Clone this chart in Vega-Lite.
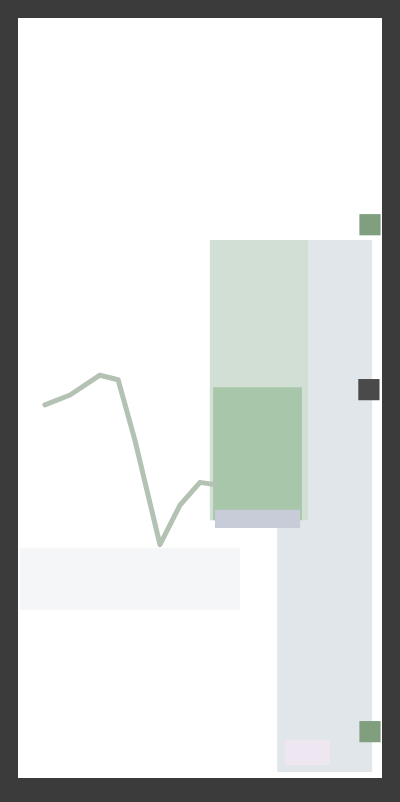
{
  "$schema": "https://vega.github.io/schema/vega-lite/v6.json",
  "autosize": {"type": "fit", "contains": "padding"},
  "width": 400,
  "height": 802,
  "padding": {"left": 18, "right": 18, "top": 18, "bottom": 24},
  "background": "#3b3b3b",
  "layer": [
    {
      "data": {
        "values": [
          {"x": 0.5, "x2": 61, "y": 30.3, "y2": 22.1, "part": "band"},
          {"x": 71.2, "x2": 97.3, "y": 70.8, "y2": 0.8, "part": "range"},
          {"x": 52.7, "x2": 79.7, "y": 70.8, "y2": 33.9, "part": "high"},
          {"x": 53.6, "x2": 78.0, "y": 51.4, "y2": 33.9, "part": "mid"},
          {"x": 54.1, "x2": 77.5, "y": 35.3, "y2": 32.9, "part": "low"},
          {"x": 73.3, "x2": 85.7, "y": 5.0, "y2": 1.7, "part": "foot"}
        ]
      },
      "mark": {"type": "rect"},
      "encoding": {
        "x": {"field": "x", "type": "quantitative", "scale": {"domain": [0, 100], "nice": false, "zero": false}, "axis": null},
        "x2": {"field": "x2"},
        "y": {"field": "y", "type": "quantitative", "scale": {"domain": [0, 100], "nice": false, "zero": false}, "axis": null},
        "y2": {"field": "y2"},
        "color": {
          "field": "part",
          "type": "nominal",
          "legend": null,
          "scale": {
            "domain": ["band", "range", "high", "mid", "low", "foot"],
            "range": ["#f5f6f8", "#e1e6ea", "#d2dfd5", "#a8c6a9", "#c8cbd8", "#eee6f0"]
          }
        }
      }
    },
    {
      "data": {
        "values": [
          {"x": 7.4, "y": 49.1},
          {"x": 14.3, "y": 50.4},
          {"x": 22.5, "y": 53.0},
          {"x": 27.5, "y": 52.4},
          {"x": 32.1, "y": 44.5},
          {"x": 39.0, "y": 30.7},
          {"x": 44.5, "y": 35.9},
          {"x": 50.0, "y": 38.9},
          {"x": 54.1, "y": 38.6}
        ]
      },
      "mark": {"type": "line", "color": "#b3c2b3", "strokeWidth": 5, "strokeCap": "round", "strokeJoin": "round"},
      "encoding": {
        "x": {"field": "x", "type": "quantitative"},
        "y": {"field": "y", "type": "quantitative"}
      }
    },
    {
      "data": {
        "values": [
          {"x": 96.4, "y": 51.1, "tag": "now"},
          {"x": 96.7, "y": 72.8, "tag": "up"},
          {"x": 96.7, "y": 6.1, "tag": "down"}
        ]
      },
      "mark": {"type": "point", "shape": "square", "filled": true, "opacity": 1, "size": 450},
      "encoding": {
        "x": {"field": "x", "type": "quantitative"},
        "y": {"field": "y", "type": "quantitative"},
        "color": {
          "field": "tag",
          "type": "nominal",
          "legend": null,
          "scale": {"domain": ["now", "up", "down"], "range": ["#4a4a4a", "#7f9f7f", "#7f9f7f"]}
        }
      }
    }
  ],
  "resolve": {"scale": {"color": "independent"}},
  "config": {
    "view": {"fill": "white", "stroke": null}
  }
}
